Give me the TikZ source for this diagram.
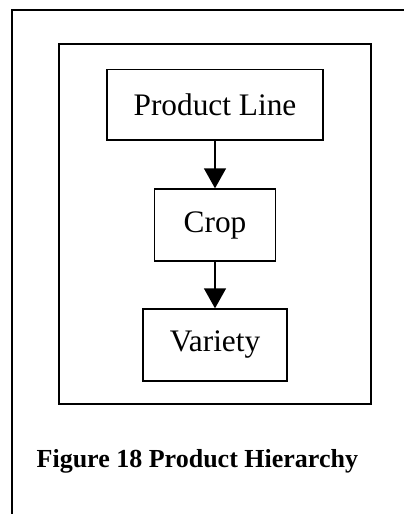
\documentclass[tikz,border=0pt]{standalone}
\usepackage{fontspec}
\setmainfont{Liberation Serif}
\usetikzlibrary{arrows.meta}
\begin{document}
\begin{tikzpicture}[x=0.75pt,y=-0.75pt,
    every node/.style={rectangle,draw,line width=1pt,font=\fontsize{23.5}{27}\selectfont,inner sep=0pt},
    frame/.style={line width=1.1pt}]
            \useasboundingbox (0,0) rectangle (404,514);
            \coordinate (TL) at (12,10);
            \draw [frame] (12,514) -- (TL) -- (404,10);
            \draw [line width=0.9pt] (59,44) rectangle (371,404);

            \node [minimum width=162pt,minimum height=53pt] (P) at (215,104.5) {Product Line};
            \node [minimum width=91pt,minimum height=54pt] (C) at (215,225) {Crop};
            \node [minimum width=108pt,minimum height=54pt] (V) at (215,345) {Variety};

            \path [-{Triangle[width=16.5pt,length=15pt]},line width=1pt] (P) edge (C);
            \path [-{Triangle[width=16.5pt,length=15pt]},line width=1pt] (C) edge (V);

            \node [draw=none,anchor=base west,font=\fontsize{19.5}{23}\selectfont\bfseries] (cap) at (36,467) {Figure 18 Product Hierarchy};
        \end{tikzpicture}
\end{document}
